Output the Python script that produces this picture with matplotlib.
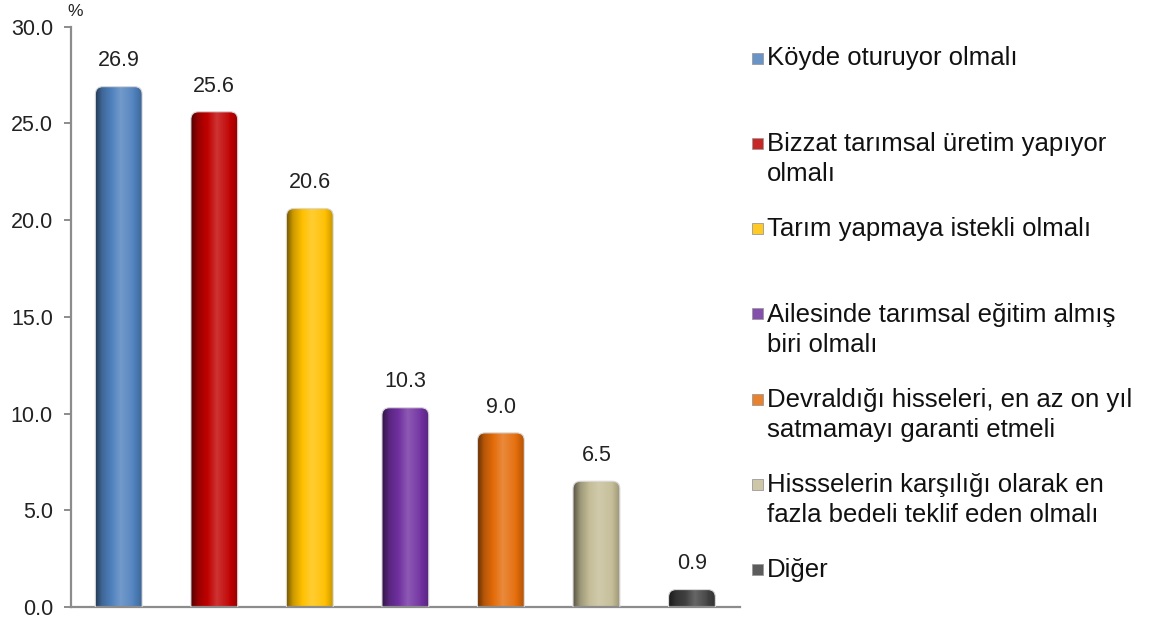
import numpy as np
import matplotlib.pyplot as plt
from matplotlib.colors import to_rgb
from matplotlib.patches import FancyBboxPatch, Rectangle

plt.rcParams['font.family'] = ['Liberation Sans', 'DejaVu Sans']

# data
labels = ['Köyde oturuyor olmalı',
          'Bizzat tarımsal üretim yapıyor\nolmalı',
          'Tarım yapmaya istekli olmalı',
          'Ailesinde tarımsal eğitim almış\nbiri olmalı',
          'Devraldığı hisseleri, en az on yıl\nsatmamayı garanti etmeli',
          'Hissselerin karşılığı olarak en\nfazla bedeli teklif eden olmalı',
          'Diğer']
values = [26.9, 25.6, 20.6, 10.3, 9.0, 6.5, 0.9]
colors = ['#4f81bd', '#c00000', '#ffc000', '#7030a0', '#e46c0a', '#c4bd97', '#404040']
yticks = [0, 5, 10, 15, 20, 25, 30]


def shade(c, f):
    c = np.array(to_rgb(c))
    if f < 1:
        return c * f
    return c + (1 - c) * (f - 1)


def gradient(c, n=64):
    t = np.linspace(0, 1, n)
    # dark left edge, bright just right of centre, a bit darker at right edge
    f = np.interp(t, [0, 0.15, 0.55, 0.8, 1.0], [0.45, 0.8, 1.2, 1.05, 0.8])
    row = np.array([shade(c, v) for v in f])
    return np.clip(row[None, :, :], 0, 1)


fig = plt.figure(figsize=(11.58, 6.26), dpi=100)
ax = fig.add_axes([0.0613, 0.0304, 0.5775, 0.927])

x = np.arange(len(values))
bars = ax.bar(x, values, width=0.49, color='none', edgecolor='none')

aspect = (1 / 19.33) / (1 / 95.6)
for b, c, v in zip(bars, colors, values):
    x0, w, h = b.get_x(), b.get_width(), b.get_height()
    clip = FancyBboxPatch((x0, -1), w, h + 1,
                          boxstyle='round,pad=0,rounding_size=0.08',
                          mutation_aspect=aspect, transform=ax.transData,
                          facecolor='none', edgecolor='none')
    ax.add_patch(clip)
    im = ax.imshow(gradient(c), extent=(x0, x0 + w, -1, h), aspect='auto',
                   interpolation='bilinear', zorder=2)
    im.set_clip_path(clip)
    edge = FancyBboxPatch((x0, -1), w, h + 1,
                          boxstyle='round,pad=0,rounding_size=0.08',
                          mutation_aspect=aspect, facecolor='none',
                          edgecolor='#d8d8d8', linewidth=0.8, zorder=3)
    ax.add_patch(edge)
    ax.annotate(f'{v:.1f}', (b.get_x() + w / 2, h), xytext=(0, 11),
                textcoords='offset points', ha='center', va='bottom',
                fontsize=15.5, color='#222222')

ax.set_xlim(-0.5, len(values) - 0.5)
ax.set_ylim(0, 30)
ax.set_yticks(yticks)
ax.set_yticklabels([f'{t:.1f}' for t in yticks], fontsize=15.5, color='#222222')
ax.set_xticks([])
for s in ['top', 'right']:
    ax.spines[s].set_visible(False)
for s in ['left', 'bottom']:
    ax.spines[s].set_color('#8c8c8c')
    ax.spines[s].set_linewidth(1.6)
ax.tick_params(axis='y', length=5, width=1.4, color='#8c8c8c', pad=8)
fig.text(67 / 1158, 1 - 19 / 626, '%', fontsize=12.5, ha='left',
         va='bottom', color='#222222')

# legend, drawn by hand: first lines of the entries are evenly spaced
first_line = 58
step = 85.3
line_h = 31.5
for i, (lab, c) in enumerate(zip(labels, colors)):
    nlines = lab.count('\n') + 1
    y1 = first_line + i * step
    yc = y1 + (nlines - 1) * line_h / 2
    sq = Rectangle((752 / 1158, 1 - (y1 + 5.5) / 626), 11 / 1158, 11 / 626,
                   transform=fig.transFigure, facecolor=gradient(c)[0, 40],
                   edgecolor='#9a9a9a', linewidth=0.6)
    fig.patches.append(sq)
    fig.text(767 / 1158, 1 - yc / 626, lab, fontsize=18.5, va='center',
             ha='left', linespacing=1.32, color='#111111')

fig.savefig('out.png', dpi=100)
